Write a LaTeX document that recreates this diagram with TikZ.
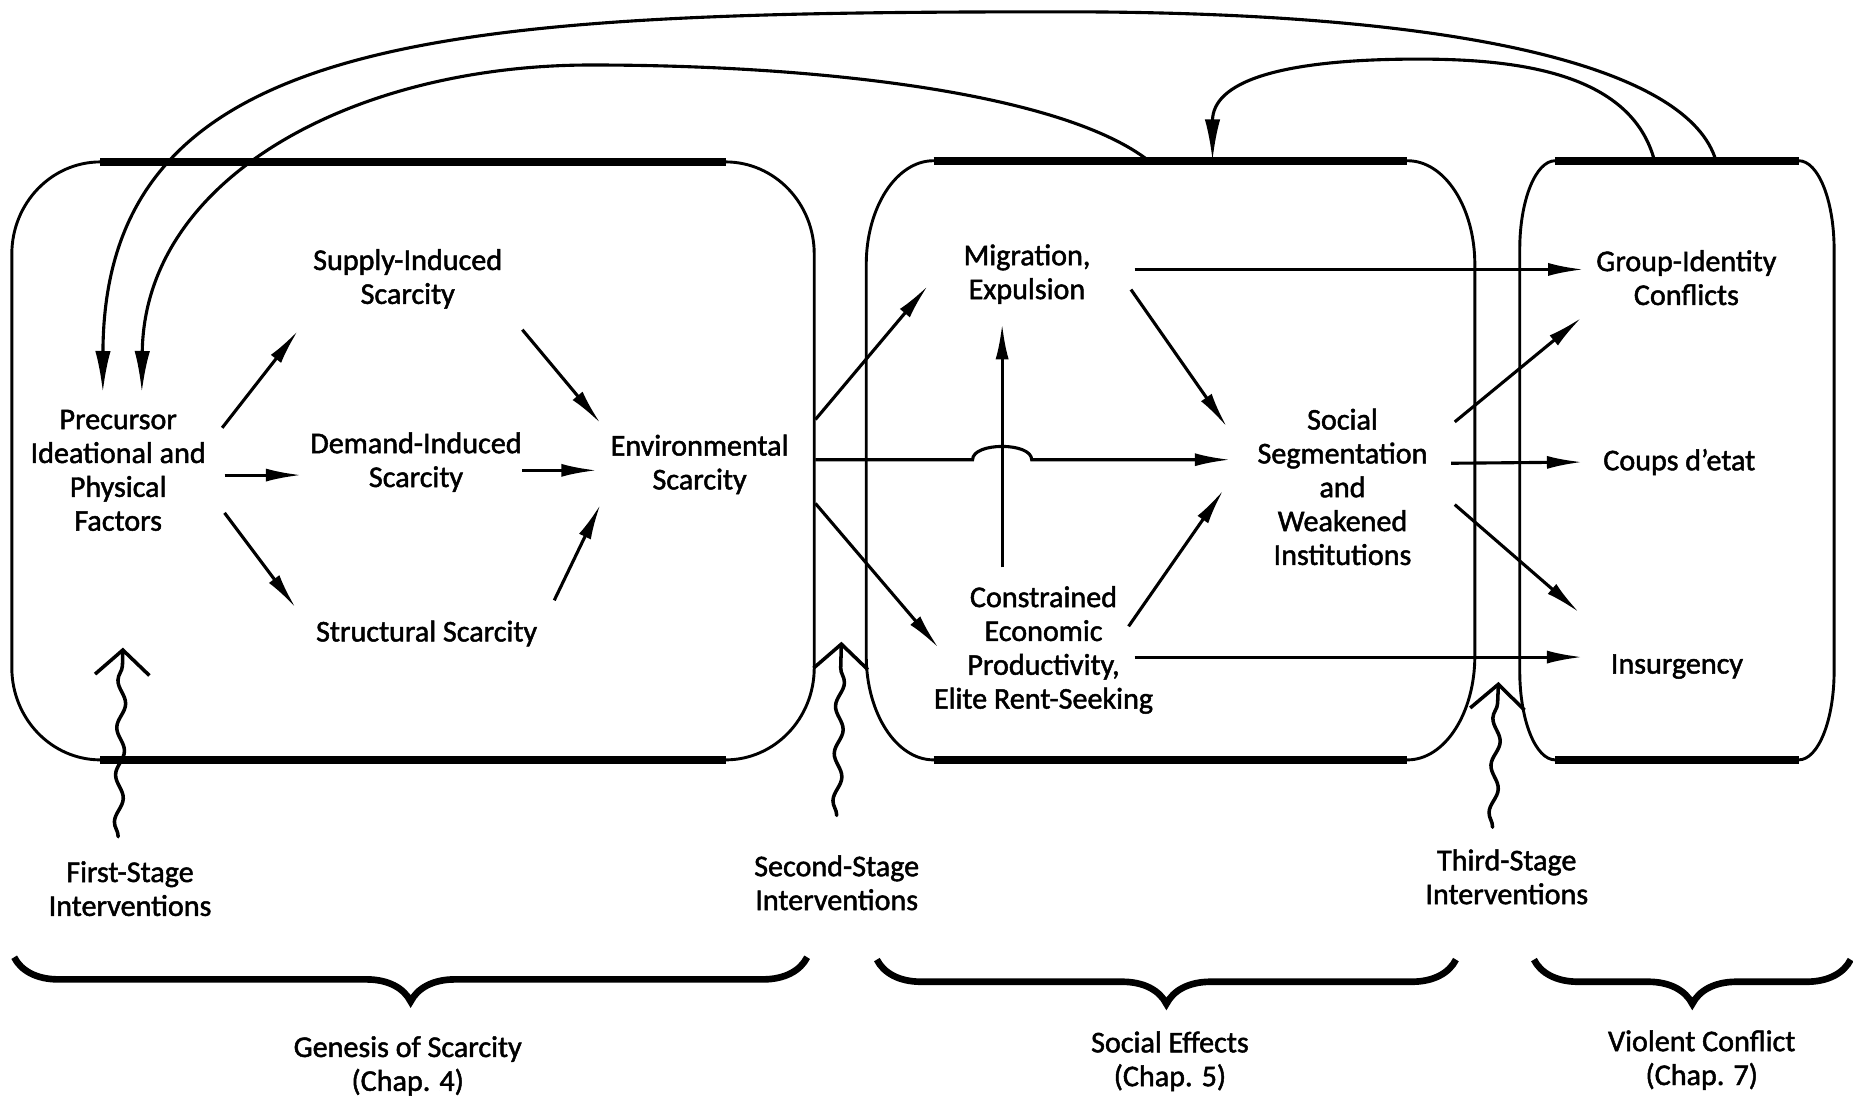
\documentclass[tikz,border=0pt]{standalone}
\usepackage{fontspec}
\setmainfont{Carlito}[FakeBold=1.6]
\usepackage{tikz}
\usetikzlibrary{calc,arrows.meta,decorations.pathmorphing,decorations.pathreplacing}
\definecolor{ink}{HTML}{000000}
\tikzset{
  box/.style={draw=ink, line width=1.4pt, line join=round},
  edge/.style={draw=ink, line width=4pt},
  arr/.style={draw=ink, line width=1.5pt, -{Latex[length=0.6cm, width=0.22cm]}},
  fb/.style={draw=ink, line width=1.5pt, -{Latex[length=0.7cm, width=0.26cm]}},
  lab/.style={text=ink, font=\fontsize{14.5}{16.3}\selectfont, align=center, inner sep=0pt},
  wavy/.style={draw=ink, line width=1.7pt, line cap=round,
    decorate, decoration={snake, amplitude=0.07cm, segment length=0.8cm, post length=0.1cm},
    -{Straight Barb[length=0.42cm, width=0.92cm]}},
  brc/.style={draw=ink, line width=3.2pt, decorate, decoration={brace, mirror, amplitude=0.75cm}}
}
\begin{document}
\begin{tikzpicture}[x=0.02cm, y=-0.02cm]
  \useasboundingbox (0,0) rectangle (1568,930);

  % stage boxes
  \draw[box] (10,215) arc[start angle=180, end angle=270, x radius=75, y radius=78]
    -- (614,137) arc[start angle=270, end angle=360, x radius=75, y radius=78]
    -- (689,565) arc[start angle=0, end angle=90, x radius=75, y radius=78]
    -- (85,643) arc[start angle=90, end angle=180, x radius=75, y radius=78] -- cycle;
  \draw[edge] (85,137) -- (614,137);
  \draw[edge] (85,643) -- (614,643);

  \draw[box] (733,224) arc[start angle=180, end angle=270, x radius=57, y radius=88]
    -- (1191,136) arc[start angle=270, end angle=360, x radius=57, y radius=88]
    -- (1248,555) arc[start angle=0, end angle=90, x radius=57, y radius=88]
    -- (790,643) arc[start angle=90, end angle=180, x radius=57, y radius=88] -- cycle;
  \draw[edge] (790,136) -- (1191,136);
  \draw[edge] (790,643) -- (1191,643);

  \draw[box] (1286,211) arc[start angle=180, end angle=270, x radius=30, y radius=75]
    -- (1522,136) arc[start angle=270, end angle=360, x radius=30, y radius=75]
    -- (1552,568) arc[start angle=0, end angle=90, x radius=30, y radius=75]
    -- (1316,643) arc[start angle=90, end angle=180, x radius=30, y radius=75] -- cycle;
  \draw[edge] (1316,136) -- (1522,136);
  \draw[edge] (1316,643) -- (1522,643);

  % factors
  \node[lab] (prec) at (100,398) {Precursor\\Ideational and\\Physical\\Factors};
  \node[lab] (supply) at (345,236) {Supply-Induced\\Scarcity};
  \node[lab] (demand) at (352,391) {Demand-Induced\\Scarcity};
  \node[lab] (struct) at (361,536) {Structural Scarcity};
  \node[lab] (env) at (592,393) {Environmental\\Scarcity};
  \node[lab] (migr) at (869,232) {Migration,\\Expulsion};
  \node[lab] (constr) at (883,550) {Constrained\\Economic\\Productivity,\\Elite Rent-Seeking};
  \node[lab] (social) at (1136,412) {Social\\Segmentation\\and\\Weakened\\Institutions};
  \node[lab] (group) at (1427,235) {Group-Identity\\Conflicts};
  \node[lab] (coups) at (1421,391) {Coups d'etat};
  \node[lab] (insurg) at (1419,564) {Insurgency};

  % causal arrows
  \draw[arr] ($(prec)+(88,-36)$) -- ($(supply)+(-93,44)$);
  \draw[arr] ($(prec)+(90,4)$) -- ($(demand)+(-97,11)$);
  \draw[arr] ($(prec)+(90,36)$) -- ($(struct)+(-111,-22)$);
  \draw[arr] ($(supply)+(97,43)$) -- ($(env)+(-84,-35)$);
  \draw[arr] ($(demand)+(90,7)$) -- ($(env)+(-87,5)$);
  \draw[arr] ($(struct)+(108,-28)$) -- ($(env)+(-84,34)$);
  \draw[arr] ($(env)+(98,-38)$) -- ($(migr)+(-84,10)$);
  \draw[arr] ($(env)+(98,-4)$) -- (823,389) .. controls (823,374) and (873,374) .. (873,389)
    -- ($(social)+(-95,-23)$);
  \draw[arr] ($(env)+(98,33)$) -- ($(constr)+(-89,-2)$);
  \draw[arr] ($(constr)+(-35,-70)$) -- ($(migr)+(-21,42)$);
  \draw[arr] ($(migr)+(91,-4)$) -- ($(group)+(-87,-7)$);
  \draw[arr] ($(migr)+(88,13)$) -- ($(social)+(-98,-51)$);
  \draw[arr] ($(constr)+(72,-20)$) -- ($(social)+(-101,3)$);
  \draw[arr] ($(constr)+(77,6)$) -- ($(insurg)+(-80,-8)$);
  \draw[arr] ($(social)+(95,-55)$) -- ($(group)+(-89,34)$);
  \draw[arr] ($(social)+(92,-20)$) -- ($(coups)+(-82,0)$);
  \draw[arr] ($(social)+(95,15)$) -- ($(insurg)+(-83,-46)$);

  % feedback loops
  \coordinate (outA) at (1452,136);
  \coordinate (outB) at (972,136);
  \coordinate (outC) at (1400,136);
  \coordinate (inC) at (1026,136);
  \draw[fb] (outA) .. controls (1430,60) and (1250,10) .. (900,10)
    .. controls (380,10) and (88,25) .. ($(prec)+(-13,-66)$);
  \draw[fb] (outB) .. controls (900,80) and (700,55) .. (500,55)
    .. controls (300,55) and (122,150) .. ($(prec)+(20,-66)$);
  \draw[fb] (outC) .. controls (1380,60) and (1280,50) .. (1200,50)
    .. controls (1080,50) and (1026,70) .. (inC);

  % interventions
  \node[lab] (first) at (110,752) {First-Stage\\Interventions};
  \node[lab] (second) at (708,747) {Second-Stage\\Interventions};
  \node[lab] (third) at (1275,742) {Third-Stage\\Interventions};
  \coordinate (ap1) at (104,548);
  \coordinate (ap2) at (712,543);
  \coordinate (ap3) at (1268,577);
  \draw[wavy] ($(first)+(-10,-44)$) -- (ap1);
  \draw[wavy] ($(second)+(0,-57)$) -- (ap2);
  \draw[wavy] ($(third)+(-12,-42)$) -- (ap3);

  % stages
  \draw[brc] (12,810) -- (683,810);
  \draw[brc] (742,812) -- (1232,812);
  \draw[brc] (1298,812) -- (1566,812);
  \node[lab] (gen) at (345,902) {Genesis of Scarcity\\(Chap. 4)};
  \node[lab] (soc) at (990,898) {Social Effects\\(Chap. 5)};
  \node[lab] (viol) at (1440,897) {Violent Conflict\\(Chap. 7)};
\end{tikzpicture}
\end{document}
